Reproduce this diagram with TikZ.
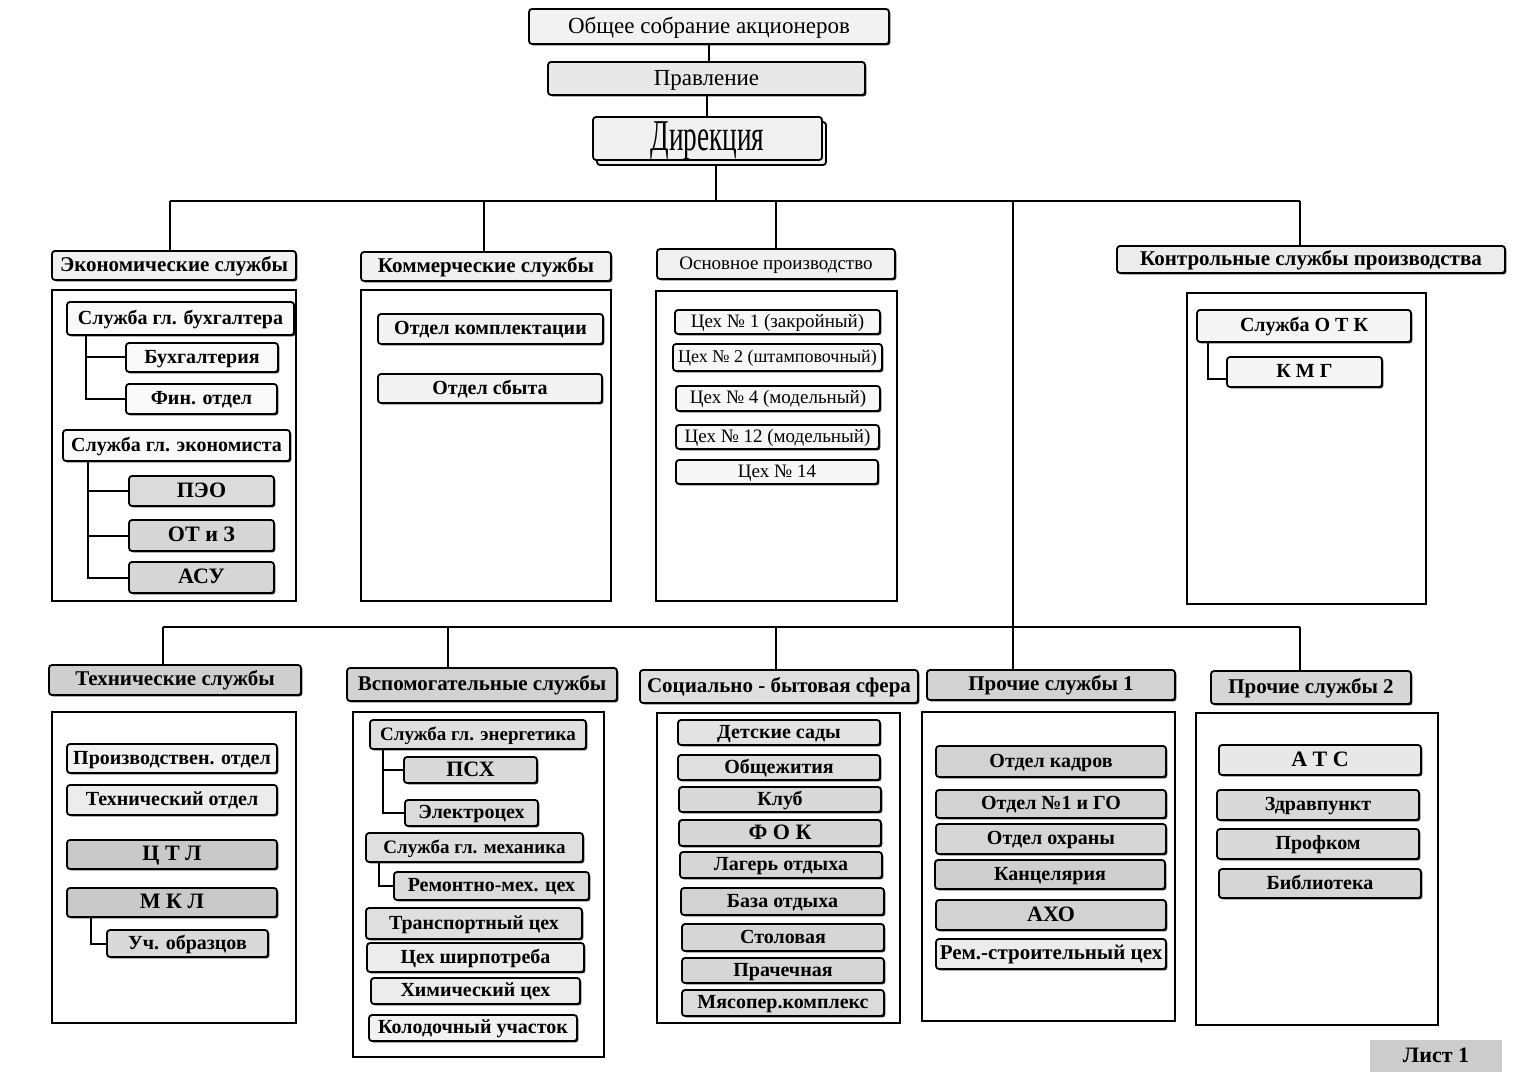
\documentclass[tikz,border=0pt]{standalone}
\usepackage{fontspec}
\setmainfont{Liberation Serif}
\usetikzlibrary{shadows}
\newcommand\mkbox[7]{\node[#6, minimum width={(#4-#2)*0.5pt}, minimum height={(#5-#3)*0.5pt}] (#1) at ({(#2+#4)/2},{(#3+#5)/2}) {#7};}
\begin{document}
\begin{tikzpicture}[x=0.5pt,y=-0.5pt,
  bx/.style={draw, line width=0.9pt, rounded corners=1.5pt, inner sep=0pt, fill=#1,
    font=\bfseries\fontsize{10}{12}\selectfont, text height=6.4pt, text depth=0.8pt,
    drop shadow={shadow xshift=0.7pt, shadow yshift=-0.7pt, fill=black, opacity=0.85}},
  bx/.default=gray!10,
  hd/.style={bx=#1, font=\bfseries\fontsize{10.5}{12}\selectfont},
  hd/.default=gray!10,
  rg/.style={font=\fontsize{9.5}{11}\selectfont, text height=6pt, text depth=0.7pt},
  big/.style={font=\bfseries\fontsize{11}{12}\selectfont, text height=7.2pt, text depth=0.8pt},
  cont/.style={draw, line width=1pt, inner sep=0pt},
  ln/.style={line width=1pt}]
\useasboundingbox[fill=white] (0,0) rectangle (1519,1085);

% ---------- containers ----------
\mkbox{econC}{52}{290}{296}{601}{cont}{}
\mkbox{commC}{361}{290}{611}{601}{cont}{}
\mkbox{osnC}{656}{291}{897}{601}{cont}{}
\mkbox{contrC}{1187}{293}{1426}{604}{cont}{}
\mkbox{techC}{52}{712}{296}{1023}{cont}{}
\mkbox{vspC}{353}{712}{604}{1057}{cont}{}
\mkbox{socC}{657}{713}{900}{1023}{cont}{}
\mkbox{pr1C}{922}{712}{1175}{1021}{cont}{}
\mkbox{pr2C}{1196}{713}{1438}{1025}{cont}{}

% ---------- top ----------
\mkbox{gsm}{529}{9}{889}{44}{bx=gray!10, font=\fontsize{11.5}{13}\selectfont, text height=7.4pt, text depth=0.8pt}{Общее собрание акционеров}
\mkbox{prav}{548}{62}{865}{95}{bx=gray!18, font=\fontsize{11.5}{13}\selectfont, text height=7.4pt, text depth=0.8pt}{Правление}
\mkbox{dir}{593}{117}{822}{160}{bx=gray!12, copy shadow={shadow xshift=2pt, shadow yshift=-2.5pt}, font=\fontsize{22}{24}\selectfont, text height=13.5pt, text depth=1pt}{\scalebox{0.62}[1]{Дирекция}}

% ---------- row 1 headers ----------
\mkbox{econH}{52}{251}{296}{280}{hd=gray!12}{Экономические службы}
\mkbox{commH}{361}{252}{611}{281}{hd=gray!12}{Коммерческие службы}
\mkbox{osnH}{657}{249}{895}{279}{bx=gray!12, font=\fontsize{9.5}{11}\selectfont, text height=6.2pt}{Основное производство}
\mkbox{contrH}{1117}{246}{1505}{273}{hd=gray!15}{Контрольные службы производства}

% econ inner
\mkbox{buh}{67}{302}{294}{335}{bx=gray!5}{Служба гл. бухгалтера}
\mkbox{buhg}{126}{343}{278}{372}{bx=gray!5}{Бухгалтерия}
\mkbox{fin}{126}{384}{277}{414}{bx=gray!5}{Фин. отдел}
\mkbox{eco}{63}{430}{290}{461}{bx=gray!5}{Служба гл. экономиста}
\mkbox{peo}{129}{476}{274}{506}{bx=gray!28, big}{ПЭО}
\mkbox{otz}{129}{520}{274}{551}{bx=gray!32, big}{ОТ и З}
\mkbox{asu}{129}{562}{274}{593}{bx=gray!32, big}{АСУ}
\draw[ln] (buh.south -| 86,0) |- (buhg.west);
\draw[ln] (buh.south -| 86,0) |- (fin.west);
\draw[ln] (eco.south -| 88,0) |- (peo.west);
\draw[ln] (eco.south -| 88,0) |- (otz.west);
\draw[ln] (eco.south -| 88,0) |- (asu.west);

% commercial inner
\mkbox{kompl}{378}{314}{603}{344}{bx=gray!10}{Отдел комплектации}
\mkbox{sbyt}{378}{374}{602}{403}{bx=gray!10}{Отдел сбыта}

% osnovnoe inner
\mkbox{c1}{675}{310}{880}{334}{bx=gray!6, rg}{Цех № 1 (закройный)}
\mkbox{c2}{673}{344}{882}{371}{bx=gray!6, rg, font=\fontsize{9}{11}\selectfont}{Цех № 2 (штамповочный)}
\mkbox{c4}{676}{386}{880}{411}{bx=gray!6, rg}{Цех № 4 (модельный)}
\mkbox{c12}{676}{425}{879}{449}{bx=gray!6, rg}{Цех № 12 (модельный)}
\mkbox{c14}{676}{460}{878}{484}{bx=gray!6, rg}{Цех № 14}

% control inner
\mkbox{otk}{1197}{310}{1411}{342}{bx=gray!8}{Служба О Т К}
\mkbox{kmg}{1227}{357}{1382}{387}{bx=gray!8}{К М Г}
\coordinate (kmgin) at ([yshift=-3.5pt]kmg.west);
\draw[ln] (otk.south -| 1208,0) |- (kmgin);

% ---------- row 2 headers ----------
\mkbox{techH}{49}{665}{301}{695}{hd=gray!38}{Технические службы}
\mkbox{vspH}{347}{668}{617}{701}{hd=gray!35}{Вспомогательные службы}
\mkbox{socH}{640}{670}{918}{703}{hd=gray!25}{Социально - бытовая сфера}
\mkbox{pr1H}{927}{670}{1175}{700}{hd=gray!35}{Прочие службы 1}
\mkbox{pr2H}{1211}{671}{1411}{704}{hd=gray!32}{Прочие службы 2}

% tech inner
\mkbox{proizv}{67}{744}{277}{773}{bx=gray!10}{Производствен. отдел}
\mkbox{tehot}{67}{785}{277}{815}{bx=gray!15}{Технический отдел}
\mkbox{ctl}{67}{840}{277}{869}{bx=gray!42, big}{Ц Т Л}
\mkbox{mkl}{67}{888}{277}{917}{bx=gray!42, big}{М К Л}
\mkbox{uch}{107}{930}{268}{957}{bx=gray!30}{Уч. образцов}
\draw[ln] (mkl.south -| 91,0) |- (uch.west);

% vspomogatelnye inner
\mkbox{energ}{370}{720}{586}{749}{bx=gray!25, font=\bfseries\fontsize{9.5}{11}\selectfont}{Служба гл. энергетика}
\mkbox{psx}{404}{757}{537}{783}{bx=gray!30, big}{ПСХ}
\mkbox{elec}{405}{800}{538}{826}{bx=gray!28}{Электроцех}
\mkbox{mech}{366}{833}{583}{862}{bx=gray!25, font=\bfseries\fontsize{9.5}{11}\selectfont}{Служба гл. механика}
\mkbox{rem}{394}{872}{589}{900}{bx=gray!28}{Ремонтно-мех. цех}
\mkbox{trans}{366}{908}{582}{939}{bx=gray!25}{Транспортный цех}
\mkbox{shir}{367}{943}{584}{972}{bx=gray!15}{Цех ширпотреба}
\mkbox{him}{371}{978}{580}{1004}{bx=gray!15}{Химический цех}
\mkbox{kolod}{369}{1015}{577}{1041}{bx=gray!10}{Колодочный участок}
\draw[ln] (energ.south -| 383,0) |- (psx.west);
\draw[ln] (energ.south -| 383,0) |- (elec.west);
\draw[ln] (mech.south -| 379,0) |- (rem.west);

% social inner
\mkbox{sady}{678}{720}{880}{745}{bx=gray!22}{Детские сады}
\mkbox{obsh}{678}{755}{880}{780}{bx=gray!25}{Общежития}
\mkbox{klub}{679}{787}{881}{812}{bx=gray!30}{Клуб}
\mkbox{fok}{679}{820}{881}{846}{bx=gray!32, big}{Ф О К}
\mkbox{lager}{680}{852}{882}{878}{bx=gray!32}{Лагерь отдыха}
\mkbox{baza}{681}{888}{884}{915}{bx=gray!35}{База отдыха}
\mkbox{stol}{682}{924}{884}{951}{bx=gray!32}{Столовая}
\mkbox{prach}{682}{958}{884}{983}{bx=gray!32}{Прачечная}
\mkbox{myaso}{682}{990}{884}{1016}{bx=gray!28}{Мясопер.комплекс}

% prochie 1 inner
\mkbox{kadr}{936}{746}{1166}{777}{bx=gray!35}{Отдел кадров}
\mkbox{go}{936}{790}{1166}{818}{bx=gray!35}{Отдел №1 и ГО}
\mkbox{ohr}{936}{824}{1166}{854}{bx=gray!32}{Отдел охраны}
\mkbox{kanc}{935}{860}{1165}{889}{bx=gray!38}{Канцелярия}
\mkbox{aho}{936}{900}{1166}{930}{bx=gray!35, big}{АХО}
\mkbox{remstr}{936}{939}{1166}{969}{bx=gray!15, font=\bfseries\fontsize{10.5}{12}\selectfont}{Рем.-строительный цех}

% prochie 2 inner
\mkbox{ats}{1219}{745}{1421}{775}{bx=gray!18, big}{А Т С}
\mkbox{zdrav}{1217}{790}{1419}{820}{bx=gray!30}{Здравпункт}
\mkbox{prof}{1217}{829}{1419}{859}{bx=gray!30}{Профком}
\mkbox{bibl}{1219}{869}{1421}{898}{bx=gray!32}{Библиотека}

% list
\mkbox{list}{1370}{1040}{1502}{1072}{fill=gray!40, inner sep=0pt, big}{Лист 1}

% ---------- main connectors ----------
\draw[ln] (gsm.south) -- (gsm.south |- prav.north);
\draw[ln] (prav.south) -- (prav.south |- dir.north);
\coordinate (d0) at (716,201);
\coordinate (dsh) at ([yshift=-2.5pt]dir.south);
\draw[ln] (dsh -| d0) -- (d0);

\coordinate (a1) at (170,201);
\coordinate (a2) at (484,201);
\coordinate (a3) at (776,201);
\coordinate (a4) at (1300,201);
\coordinate (m1) at (1013,201);
\draw[ln] (a1) -- (a4);
\draw[ln] (a1) -- (a1 |- econH.north);
\draw[ln] (a2) -- (a2 |- commH.north);
\draw[ln] (a3) -- (a3 |- osnH.north);
\draw[ln] (a4) -- (a4 |- contrH.north);

\coordinate (b1) at (163,627);
\coordinate (b2) at (448,627);
\coordinate (b3) at (776,627);
\coordinate (b4) at (1013,627);
\coordinate (b5) at (1300,627);
\draw[ln] (m1) -- (b4);
\draw[ln] (b1) -- (b5);
\draw[ln] (b1) -- (b1 |- techH.north);
\draw[ln] (b2) -- (b2 |- vspH.north);
\draw[ln] (b3) -- (b3 |- socH.north);
\draw[ln] (b4) -- (b4 |- pr1H.north);
\draw[ln] (b5) -- (b5 |- pr2H.north);
\end{tikzpicture}
\end{document}
